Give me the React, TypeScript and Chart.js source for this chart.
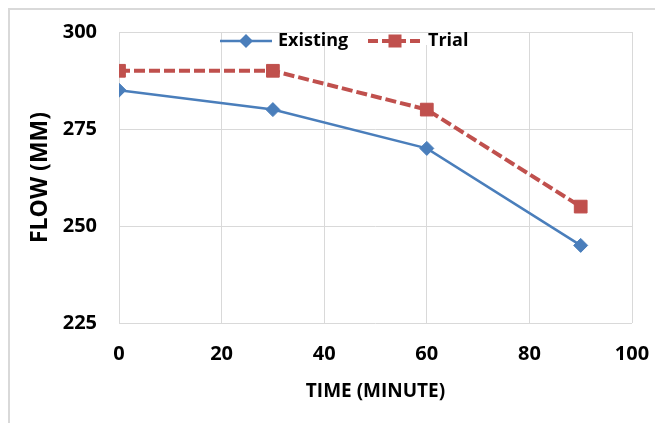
import React, { useEffect, useRef } from 'react';
import { Chart, registerables } from 'chart.js';

Chart.register(...registerables);

const timeMinutes = [0, 30, 60, 90];
const existingFlow = [285, 280, 270, 245];
const trialFlow = [290, 290, 280, 255];
const xTicks = [0, 20, 40, 60, 80, 100];
const yTicks = [225, 250, 275, 300];
const seriesNames = ['Existing', 'Trial'];
const xTitle = 'TIME (MINUTE)';
const yTitle = 'FLOW (MM)';

const BLUE = '#4A7EBB';
const RED = '#C0504D';
const FONT = '"Open Sans", "Liberation Sans", sans-serif';
const GRID = '#d9d9d9';

const legendPlugin = {
  id: 'customLegend',
  afterDraw(chart: any) {
    const ctx = chart.ctx;
    ctx.save();
    ctx.fillStyle = '#ffffff';
    ctx.fillRect(213, 23, 247, 12);
    const y = 31;
    // Existing
    ctx.strokeStyle = BLUE;
    ctx.lineWidth = 2.5;
    ctx.setLineDash([]);
    ctx.beginPath();
    ctx.moveTo(210, y);
    ctx.lineTo(262, y);
    ctx.stroke();
    ctx.fillStyle = BLUE;
    const r = 7;
    const dx = 236;
    ctx.beginPath();
    ctx.moveTo(dx, y - r);
    ctx.lineTo(dx + r, y);
    ctx.lineTo(dx, y + r);
    ctx.lineTo(dx - r, y);
    ctx.closePath();
    ctx.fill();
    // Trial
    ctx.strokeStyle = RED;
    ctx.lineWidth = 4;
    ctx.setLineDash([10, 4]);
    ctx.beginPath();
    ctx.moveTo(358, y);
    ctx.lineTo(412, y);
    ctx.stroke();
    ctx.setLineDash([]);
    ctx.fillStyle = RED;
    const s = 6.5;
    ctx.fillRect(385 - s, y - s, 2 * s, 2 * s);
    // text
    ctx.fillStyle = '#000';
    ctx.font = `bold 18px ${FONT}`;
    ctx.textAlign = 'left';
    ctx.textBaseline = 'middle';
    ctx.fillText(seriesNames[0], 268, y);
    ctx.fillText(seriesNames[1], 418, y);
    ctx.restore();
  },
};

export default function App() {
  const canvasRef = useRef<HTMLCanvasElement | null>(null);

  useEffect(() => {
    const canvas = canvasRef.current;
    if (!canvas) return;
    const chart = new Chart(canvas, {
      type: 'line',
      data: {
        datasets: [
          {
            label: seriesNames[0],
            data: timeMinutes.map((t, i) => ({ x: t, y: existingFlow[i] })),
            borderColor: BLUE,
            backgroundColor: BLUE,
            borderWidth: 2.5,
            pointStyle: 'rectRot',
            pointRadius: 7,
            pointBorderWidth: 1,
            pointBorderColor: BLUE,
            pointBackgroundColor: BLUE,
            tension: 0,
          },
          {
            label: seriesNames[1],
            data: timeMinutes.map((t, i) => ({ x: t, y: trialFlow[i] })),
            borderColor: RED,
            backgroundColor: RED,
            borderWidth: 4,
            borderDash: [11, 4],
            pointStyle: 'rect',
            pointRadius: 9,
            pointBorderWidth: 1,
            pointBorderColor: RED,
            pointBackgroundColor: RED,
            tension: 0,
          },
        ],
      },
      options: {
        responsive: false,
        animation: false,
        devicePixelRatio: 1,
        layout: { padding: { left: 0, top: 22, right: 31, bottom: 0 } },
        plugins: {
          legend: { display: false },
          tooltip: { enabled: false },
          title: { display: false },
        },
        scales: {
          x: {
            type: 'linear',
            min: 0,
            max: 100,
            afterBuildTicks: (s: any) => {
              s.ticks = xTicks.map((v) => ({ value: v }));
            },
            afterFit: (s: any) => {
              s.height = 100;
            },
            grid: { color: GRID, lineWidth: 1, drawTicks: true, tickLength: 19, tickColor: 'rgba(0,0,0,0)' },
            border: { display: false },
            ticks: {
              padding: 0,
              color: '#000',
              font: { family: FONT, size: 20, weight: 'bold' },
              maxRotation: 0,
            },
            title: {
              display: true,
              text: xTitle,
              color: '#000',
              font: { family: FONT, size: 19, weight: 'bold' },
              padding: { top: 4, bottom: 20 },
            },
          },
          y: {
            type: 'linear',
            min: 225,
            max: 300,
            afterBuildTicks: (s: any) => {
              s.ticks = yTicks.map((v) => ({ value: v }));
            },
            afterFit: (s: any) => {
              s.width = 109;
            },
            grid: { color: GRID, lineWidth: 1, drawTicks: true, tickLength: 22, tickColor: 'rgba(0,0,0,0)' },
            border: { display: false },
            ticks: {
              padding: 0,
              color: '#000',
              font: { family: FONT, size: 20, weight: 'bold' },
            },
            title: {
              display: true,
              text: yTitle,
              color: '#000',
              font: { family: FONT, size: 23, weight: 'bold' },
              padding: { top: 17, bottom: 0 },
            },
          },
        },
      },
      plugins: [legendPlugin],
    } as any);
    return () => chart.destroy();
  }, []);

  return (
    <div
      style={{
        width: 655,
        height: 415,
        boxSizing: 'border-box',
        borderTop: `2px solid ${GRID}`,
        borderLeft: `2px solid ${GRID}`,
        position: 'relative',
        background: '#fff',
        overflow: 'hidden',
      }}
    >
      <canvas ref={canvasRef} width={653} height={413} style={{ display: 'block', width: 653, height: 413 }} />
    </div>
  );
}
